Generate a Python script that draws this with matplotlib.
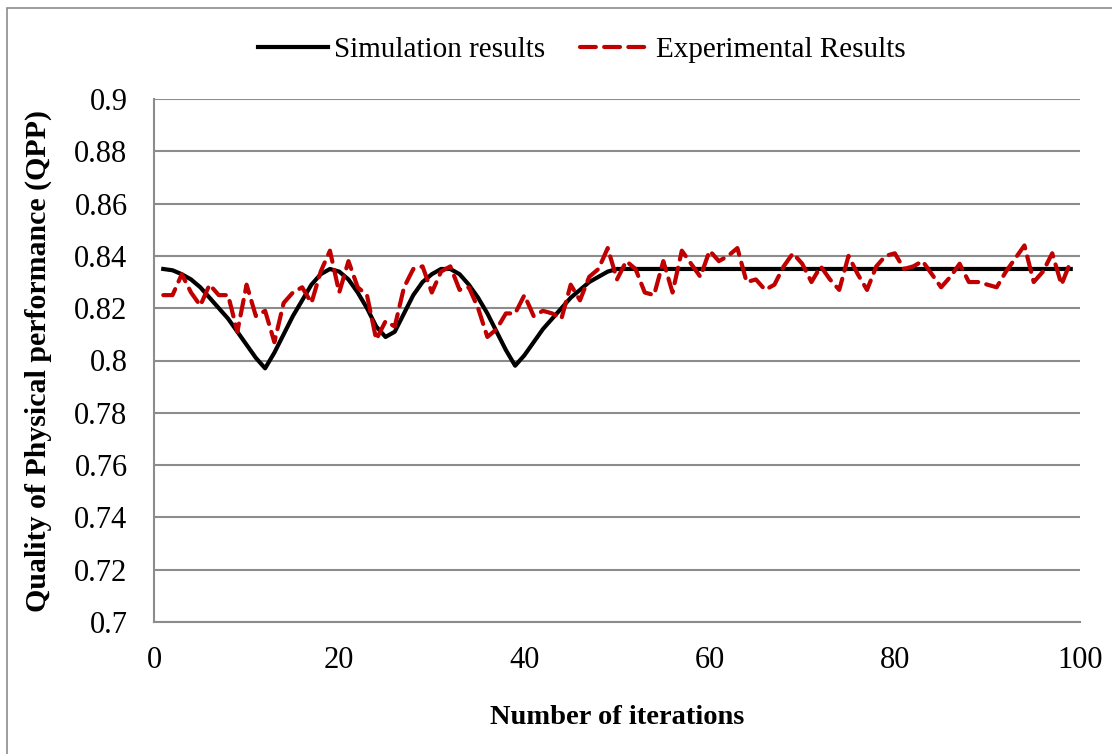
import matplotlib.pyplot as plt
from matplotlib.patches import Rectangle
import numpy as np

plt.rcParams['font.family'] = ['Liberation Serif', 'DejaVu Serif']

# iterations 1..99
iterations = np.arange(1, 100)

simulation = [0.835, 0.8345, 0.833, 0.831, 0.828, 0.824, 0.820, 0.816, 0.811, 0.806,
              0.801, 0.797, 0.803, 0.810, 0.817, 0.823, 0.829, 0.833, 0.835, 0.834,
              0.831, 0.826, 0.820, 0.813, 0.809, 0.811, 0.818, 0.825, 0.830, 0.833,
              0.835, 0.835, 0.833, 0.829, 0.824, 0.818, 0.811, 0.804, 0.798, 0.802,
              0.807, 0.812, 0.816, 0.820, 0.824, 0.827, 0.830, 0.832, 0.834] + [0.835] * 50

experimental = [0.825, 0.825, 0.833, 0.826, 0.821, 0.829, 0.825, 0.825, 0.811, 0.829,
                0.817, 0.819, 0.807, 0.822, 0.826, 0.828, 0.822, 0.834, 0.842, 0.826,
                0.838, 0.828, 0.825, 0.808, 0.815, 0.813, 0.828, 0.835, 0.836, 0.826,
                0.834, 0.836, 0.827, 0.828, 0.820, 0.809, 0.812, 0.818, 0.818, 0.825,
                0.817, 0.819, 0.818, 0.816, 0.829, 0.823, 0.832, 0.835, 0.843, 0.831,
                0.838, 0.835, 0.826, 0.825, 0.838, 0.826, 0.842, 0.837, 0.832, 0.842,
                0.838, 0.840, 0.843, 0.830, 0.831, 0.827, 0.829, 0.836, 0.841, 0.837,
                0.830, 0.836, 0.831, 0.827, 0.840, 0.833, 0.827, 0.836, 0.840, 0.841,
                0.835, 0.836, 0.838, 0.833, 0.828, 0.832, 0.837, 0.830, 0.830, 0.829,
                0.828, 0.834, 0.839, 0.844, 0.830, 0.834, 0.841, 0.829, 0.838]

xticks = [0, 20, 40, 60, 80, 100]
yticks = [0.7, 0.72, 0.74, 0.76, 0.78, 0.8, 0.82, 0.84, 0.86, 0.88, 0.9]
ytick_labels = ['0.7', '0.72', '0.74', '0.76', '0.78', '0.8', '0.82', '0.84', '0.86', '0.88', '0.9']

W, H = 1112, 754
fig = plt.figure(figsize=(W / 100, H / 100), dpi=100)
ax = fig.add_axes([154 / W, 1 - 622 / H, (1080 - 154) / W, (622 - 99) / H])

# chart area border
fig.patches.append(Rectangle((7 / W, -0.01), 1.02, 1 - 8 / H + 0.01, transform=fig.transFigure,
                             fill=False, edgecolor='#8c8c8c', linewidth=1.2))

ax.plot(iterations, simulation, color='black', linewidth=3, label='Simulation results',
        solid_joinstyle='round', zorder=3)
ax.plot(iterations, experimental, color='#C00000', linewidth=3, linestyle=(0, (3.8, 2)),
        dash_capstyle='round', label='Experimental Results', zorder=4)

ax.set_xlim(0, 100)
ax.set_ylim(0.7, 0.9)
ax.set_xticks(xticks)
ax.set_yticks(yticks)
ax.set_yticklabels(ytick_labels)
ax.tick_params(length=0, labelsize=22)
ax.tick_params(axis='y', pad=19)
ax.tick_params(axis='x', pad=17)
ax.grid(axis='y', color='#8c8c8c', linewidth=1.5)
ax.set_axisbelow(True)
for side in ['top', 'right']:
    ax.spines[side].set_visible(False)
for side in ['left', 'bottom']:
    ax.spines[side].set_color('#8c8c8c')
    ax.spines[side].set_linewidth(1.5)

ax.set_xlabel('Number of iterations', fontsize=20.5, fontweight='bold', labelpad=22)
ax.set_ylabel('Quality of Physical performance (QPP)', fontsize=21.5, fontweight='bold', labelpad=16)

fig.legend(loc='center', bbox_to_anchor=(582 / W, 1 - 50 / H), ncol=2, frameon=False,
           fontsize=21, handlelength=2.4, handletextpad=0.2, columnspacing=1.2)

fig.savefig('out.png', dpi=100)
